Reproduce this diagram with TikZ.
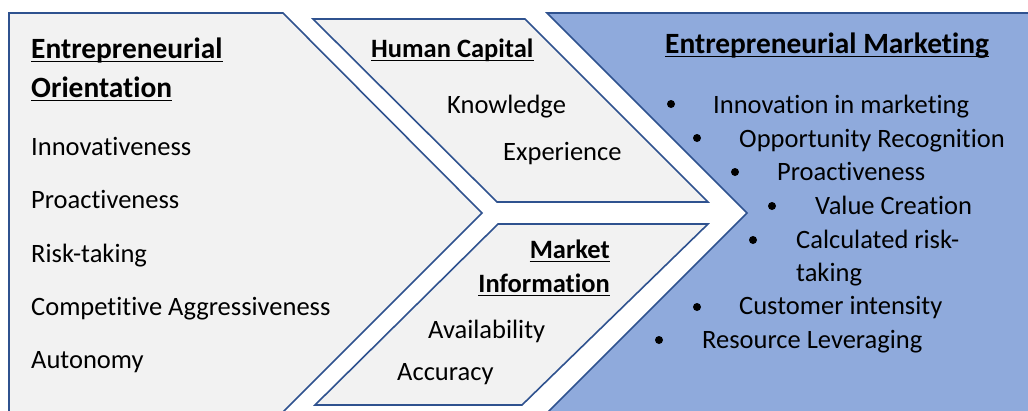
\documentclass[tikz,border=0pt]{standalone}
\usepackage{fontspec}
\setmainfont{Carlito}[Ligatures=NoCommon]
\definecolor{edge}{HTML}{2F528F}
\definecolor{grayfill}{HTML}{F2F2F2}
\definecolor{bluefill}{HTML}{8FAADC}
\tikzset{
  panel/.style={draw=edge, line width=1.6pt, line join=miter},
  txt/.style={inner sep=0pt, anchor=base west, font=\fontsize{26.5}{32}\selectfont},
  hdr/.style={inner sep=0pt, anchor=base west, font=\fontsize{29.4}{35}\selectfont\bfseries},
  hdrs/.style={inner sep=0pt, anchor=base west, font=\fontsize{26.5}{32}\selectfont\bfseries},
  bul/.style={circle, fill=black, inner sep=0pt, minimum size=8pt},
  uline/.style={line width=1.6pt, black},
}
\begin{document}
\begin{tikzpicture}[x=1pt,y=-1pt]
\useasboundingbox (0,0) rectangle (1028,410);
\fill[white] (0,0) rectangle (1028,410);
\begin{scope}
\clip (0,0) rectangle (1028,410);
% left chevron panel
\path[panel, fill=grayfill] (9,13) -- (283,13) -- (482,213) -- (275,420) -- (9,420) -- cycle;
% human capital
\path[panel, fill=grayfill] (313,19) -- (525,19) -- (708,202) -- (497,202) -- cycle;
% market information
\path[panel, fill=grayfill] (498,224) -- (708,224) -- (522,405) -- (315,405) -- cycle;
% entrepreneurial marketing
\path[panel, fill=bluefill] (547,13) -- (1040,13) -- (1040,420) -- (540,420) -- (747,213) -- cycle;
\end{scope}

% left texts
\node[hdr] (eo1) at (31,58) {Entrepreneurial};
\node[hdr] (eo2) at (31,97) {Orientation};
\node[txt] (l1) at (31,155) {Innovativeness};
\node[txt] (l2) at (31,208) {Proactiveness};
\node[txt] (l3) at (31,262) {Risk-taking};
\node[txt] (l4) at (31,315) {Competitive Aggressiveness};
\node[txt] (l5) at (31,368) {Autonomy};

% human capital texts
\node[hdrs] (hc) at (371,57) {Human Capital};
\node[txt] (hc1) at (447,113) {Knowledge};
\node[txt] (hc2) at (503,160) {Experience};

% market information texts
\node[hdrs, anchor=base east] (mi1) at (610,258) {Market};
\node[hdrs, anchor=base east] (mi2) at (610,292) {Information};
\node[txt] (mi3) at (428,338) {Availability};
\node[txt] (mi4) at (397,380) {Accuracy};

% entrepreneurial marketing
\node[hdr] (em) at (665,53) {Entrepreneurial Marketing};
\node[bul] (b1) at (671,104) {};
\node[txt] (e1) at (713,113) {Innovation in marketing};
\node[bul] (b2) at (697,138) {};
\node[txt] (e2) at (739,147) {Opportunity Recognition};
\node[bul] (b3) at (735,172) {};
\node[txt] (e3) at (777,180) {Proactiveness};
\node[bul] (b4) at (772,206) {};
\node[txt] (e4) at (815,214) {Value Creation};
\node[bul] (b5) at (753,240) {};
\node[txt] (e5) at (796,248) {Calculated risk-};
\node[txt] (e5b) at (796,281) {taking};
\node[bul] (b6) at (697,307) {};
\node[txt] (e6) at (739,314) {Customer intensity};
\node[bul] (b7) at (659,340) {};
\node[txt] (e7) at (702,348) {Resource Leveraging};

% underlines
\foreach \n in {eo1,eo2,hc,mi1,mi2,em}
  \draw[uline] ([yshift=-3.5pt]\n.base west) -- ([yshift=-3.5pt]\n.base east);
\end{tikzpicture}
\end{document}
